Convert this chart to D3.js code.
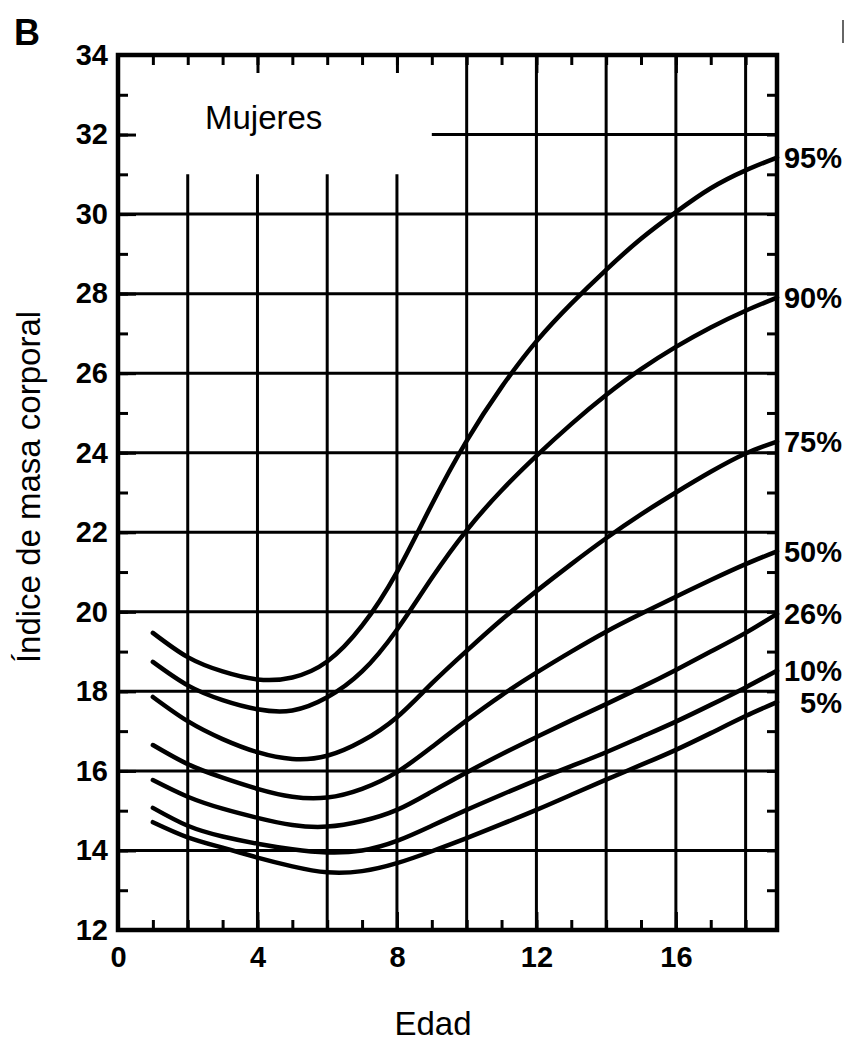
<!DOCTYPE html>
<html>
<head>
<meta charset="utf-8">
<script src="https://cdn.jsdelivr.net/npm/d3@7"></script>
<style>
  body{margin:0;background:#fff;}
  svg{display:block;font-family:"Liberation Sans",Arial,sans-serif;}
  .grid line{stroke:#000;stroke-width:3;}
  .ax line{stroke:#000;stroke-width:3;}
  .ax path{display:none;}
  .ax text{font-weight:bold;font-size:29px;fill:#000;}
  .curve{fill:none;stroke:#000;stroke-width:4.5;stroke-linecap:round;}
</style>
</head>
<body>
<svg id="chart" width="848" height="1042"></svg>
<script>
// ages (last point = right edge of the frame)
const ages=[1,2,3,4,5,6,7,8,9,10,11,12,13,14,15,16,17,18,18.9];

// BMI percentile curves, girls
const p95=[19.47,18.86,18.5,18.3,18.35,18.75,19.65,21.0,22.7,24.3,25.65,26.8,27.75,28.6,29.38,30.05,30.65,31.1,31.42];
const p90=[18.74,18.15,17.78,17.55,17.52,17.85,18.5,19.55,20.85,22.05,23.05,23.92,24.72,25.45,26.1,26.66,27.15,27.57,27.9];
const p75=[17.86,17.25,16.8,16.47,16.3,16.38,16.75,17.35,18.2,19.02,19.8,20.52,21.2,21.85,22.45,23.0,23.52,23.98,24.28];
const p50=[16.65,16.17,15.83,15.55,15.35,15.33,15.55,15.97,16.6,17.27,17.9,18.47,19.0,19.5,19.95,20.38,20.8,21.2,21.52];
const p26=[15.77,15.35,15.05,14.82,14.64,14.6,14.74,15.02,15.48,15.96,16.42,16.85,17.27,17.68,18.1,18.54,19.0,19.47,19.95];
const p10=[15.07,14.62,14.35,14.17,14.03,13.95,14.0,14.24,14.62,15.02,15.4,15.77,16.12,16.47,16.85,17.24,17.66,18.1,18.52];
const p5 =[14.71,14.33,14.07,13.82,13.6,13.45,13.48,13.68,13.98,14.31,14.66,15.02,15.4,15.78,16.15,16.53,16.95,17.38,17.73];

const seriesNames=["95%","90%","75%","50%","26%","10%","5%"];
const seriesValues=[p95,p90,p75,p50,p26,p10,p5];

const xTickLabels=[0,4,8,12,16];
const yTickLabels=[12,14,16,18,20,22,24,26,28,30,32,34];

const svg=d3.select("#chart");
const L=118,R=777,T=55,B=930;

const x=d3.scaleLinear().domain([0,18.9]).range([L,R]);
const y=d3.scaleLinear().domain([12,34]).range([B,T]);

// grid: box for "Mujeres" label at top-left (x<=9, y>=31) is left open
const grid=svg.append("g").attr("class","grid");
d3.range(2,19,2).forEach(v=>{
  grid.append("line")
    .attr("x1",x(v)).attr("x2",x(v))
    .attr("y1",y(12)).attr("y2",v<=8?y(31):y(34));
});
d3.range(14,33,2).forEach(v=>{
  grid.append("line")
    .attr("y1",y(v)).attr("y2",y(v))
    .attr("x1",v>=32?x(9):x(0)).attr("x2",x(18.9));
});

// minor ticks, all pointing inward
svg.append("g").attr("class","ax").attr("transform",`translate(0,${B})`)
  .call(d3.axisBottom(x).tickValues(d3.range(1,19)).tickSize(-10).tickFormat(""));
svg.append("g").attr("class","ax").attr("transform",`translate(0,${T})`)
  .call(d3.axisTop(x).tickValues(d3.range(1,19)).tickSize(-10).tickFormat(""));
svg.append("g").attr("class","ax").attr("transform",`translate(${L},0)`)
  .call(d3.axisLeft(y).tickValues(d3.range(13,34)).tickSize(-10).tickFormat(""));
svg.append("g").attr("class","ax").attr("transform",`translate(${R},0)`)
  .call(d3.axisRight(y).tickValues(d3.range(13,34)).tickSize(-10).tickFormat(""));
svg.append("g").attr("class","ax").attr("transform",`translate(0,${T})`)
  .call(d3.axisTop(x).tickValues(xTickLabels).tickSize(-18).tickFormat(""));

// labelled ticks
svg.append("g").attr("class","ax").attr("transform",`translate(0,${B})`)
  .call(d3.axisBottom(x).tickValues(xTickLabels).tickSize(-18).tickPadding(16).tickFormat(d3.format("d")));
svg.append("g").attr("class","ax").attr("transform",`translate(${L},0)`)
  .call(d3.axisLeft(y).tickValues(yTickLabels).tickSize(-18).tickPadding(10).tickFormat(d3.format("d")));

// frame
svg.append("rect")
  .attr("x",L).attr("y",T).attr("width",R-L).attr("height",B-T)
  .attr("fill","none").attr("stroke","#000").attr("stroke-width",4.5);

// curves
const line=d3.line()
  .x((d,i)=>x(ages[i]))
  .y(d=>y(d))
  .curve(d3.curveNatural);

svg.append("g").selectAll("path")
  .data(seriesValues)
  .join("path")
  .attr("class","curve")
  .attr("d",d=>line(d));

// percentile labels at the end of each curve
svg.append("g").selectAll("text")
  .data(seriesValues)
  .join("text")
  .attr("x",842)
  .attr("y",d=>y(d[d.length-1]))
  .attr("dy","0.36em")
  .attr("text-anchor","end")
  .attr("font-weight","bold")
  .attr("font-size",29)
  .text((d,i)=>seriesNames[i]);

// texts
svg.append("text").attr("x",205).attr("y",129)
  .attr("font-size",33).text("Mujeres");

svg.append("text")
  .attr("transform",`translate(40,${487}) rotate(-90)`)
  .attr("text-anchor","middle").attr("font-size",33)
  .text("Índice de masa corporal");

svg.append("text").attr("x",433).attr("y",1035)
  .attr("text-anchor","middle").attr("font-size",33).text("Edad");

svg.append("text").attr("x",14).attr("y",45)
  .attr("font-size",36).attr("font-weight","bold").text("B");

// small stroke at top right of the scan
svg.append("line").attr("x1",843).attr("x2",843).attr("y1",20).attr("y2",43)
  .attr("stroke","#333").attr("stroke-width",1.5);
</script>
</body>
</html>
